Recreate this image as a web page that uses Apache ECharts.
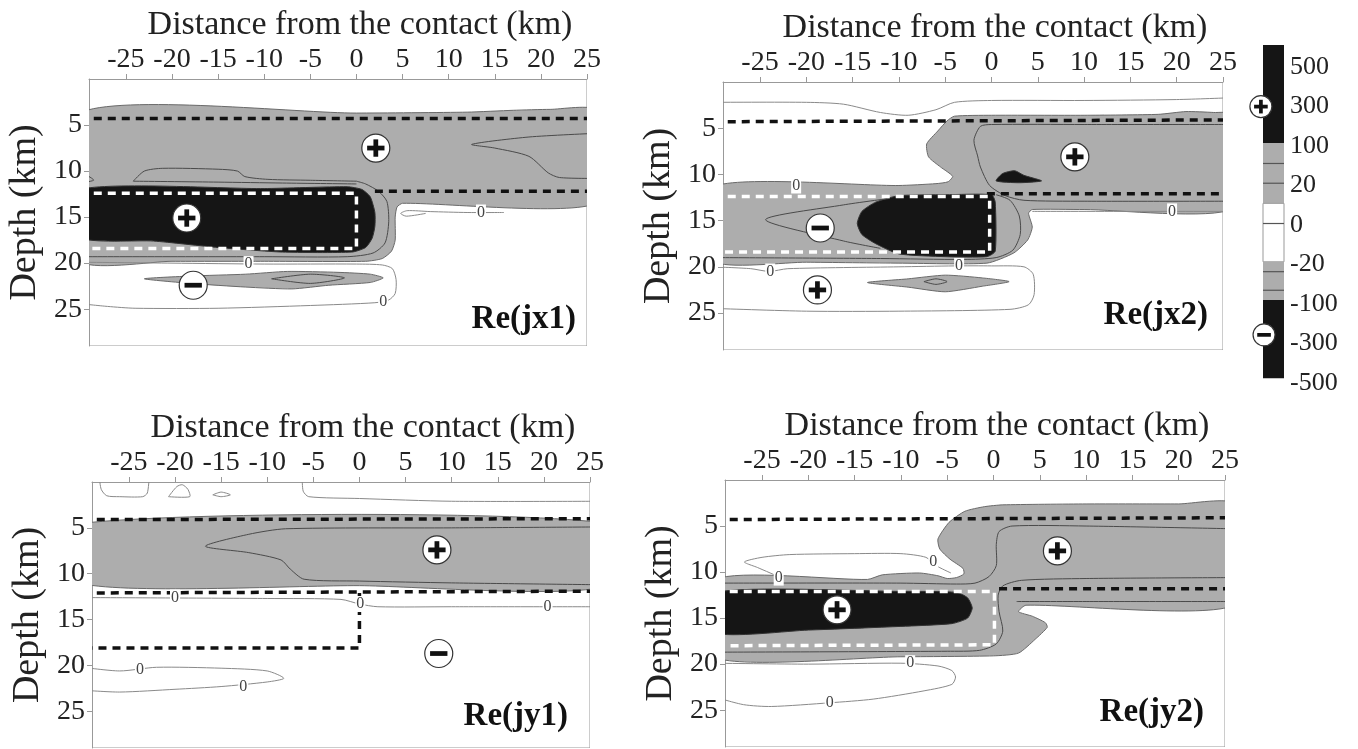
<!DOCTYPE html>
<html><head><meta charset="utf-8">
<script src="https://cdn.jsdelivr.net/npm/echarts@6/dist/echarts.min.js"></script>
<style>html,body{margin:0;padding:0;background:#fff}#c{width:1358px;height:749px}</style>
</head><body><div id="c"></div><script>
// ---------- axes ----------
const xTickValues = [-25,-20,-15,-10,-5,0,5,10,15,20,25];
const yTickValues = [5,10,15,20,25];
const xRange = [-29, 25];
const yRange = [0, 29];
const panelTitles = ['Re(jx1)','Re(jx2)','Re(jy1)','Re(jy2)'];

// ---------- colour bar ----------
const cbLabels = ['500','300','100','20','0','-20','-100','-300','-500'];
const cbAxisRange = [-0.56, 8.1];
const cbSegStart = [-0.56, 1.92, 3.45, 4.93, 5.9];
const cbSegEnd   = [1.92, 3.45, 4.93, 5.9, 7.88];
const cbSegKind  = ['black','grey','white','grey','black'];
const cbLines    = [2.44, 2.94, 3.96, 5.18, 5.65];
const cbPlus  = [[-0.1, 1.0]];
const cbMinus = [[0.05, 6.78]];

// ---------- panel 1 : Re(jx1) ----------
const p1Grey = [
 [[-30,3.7],[0,3.7],[12,3.6],[17,3.4],[21,3.3],[26,3.4],[26,13.5],[5,13.5],[4.4,13.9],[4.2,15],[4.2,17.5],[3.8,18.7],[2.8,19.5],[1,19.8],[-10,19.8],[-20,19.8],[-30,19.7]],
 [[-23,21.7],[-18,21.4],[-12,21.2],[-7.5,20.9],[-2,21.0],[1.5,21.2],[2.9,21.6],[1.5,22.1],[-3,22.4],[-7,22.8],[-12,22.6],[-18,22.2]]
];
const p1Black = [
 [[-30,12.0],[-10,11.9],[-1,11.7],[0.6,12.0],[1.5,12.8],[2.0,14.5],[2.0,16],[1.7,17.3],[1,18.3],[-0.5,18.8],[-8,18.8],[-15,18.3],[-22,17.6],[-30,17.2]]
];
const p1Contours = [
 [[-24.2,11.1],[-23,10.0],[-21,9.7],[-15,9.8],[-12.9,10.0],[-12.1,10.6],[-9.6,10.9],[-5,11.0],[0,11.1]],
 [[-24.2,11.1],[-15,11.2],[-8,11.3],[0,11.4]],
 [[0,11.1],[1,11.4],[2.4,12.2],[3.3,13.3],[3.5,15.5],[3.1,17.8],[1.8,18.9],[-1,19.3],[-10,19.3],[-30,19.3]],
 [[-30,10.3],[-29,10.6],[-28.5,11.0],[-30,11.3]],
 [[26,5.9],[18.7,6.3],[12.5,7.1],[15,7.5],[18.7,8.4],[20.8,10.2],[22,10.7],[26,10.8]],
 [[-9.2,21.7],[-5,21.2],[-1.3,21.6],[-5,22.2],[-9.2,21.7]]
];
const p1Zero = [
 [[-30,19.9],[-20,20.0],[-10,20.1],[0,20.1],[2.8,20.2],[3.9,20.6],[4.3,21.8],[4.2,23.3],[3.5,24.0],[2,24.3],[-5,24.6],[-15,24.9],[-24,24.9],[-27,24.7],[-30,24.4]],
 [[16,14.5],[12,14.5],[8,14.4],[5.5,14.3],[4.8,14.6],[5.4,14.9],[7.5,14.6]]
];
const p1ZeroLabels = [[-11.7,20.1],[2.9,24.2],[13.5,14.5]];
const p1DashBlack = [[[-30,4.3],[26,4.3]], [[2,12.2],[26,12.2]]];
const p1DashWhite = [[[-30,12.4],[0,12.4],[0,18.4],[-30,18.4]]];
const p1Plus = [[2.1,7.5],[-18.4,15.1]];
const p1Minus = [[-17.7,22.4]];

// ---------- panel 2 : Re(jx2) ----------
const p2Grey = [
 [[-30,11.3],[-10,11.2],[-6,11.0],[-4.7,10.8],[-4.2,10.2],[-5.5,9.2],[-6.8,8.1],[-7,6.7],[-5.8,5.3],[-4.8,4.2],[-4,3.7],[0,3.6],[10,3.6],[18,3.5],[21,3.2],[24,3.3],[26,3.5],[26,13.7],[10,13.8],[4.4,13.8],[4.0,14.2],[4.4,15.7],[3.9,17.1],[2.4,18.5],[-0.5,19.6],[-10,19.6],[-20,19.5],[-30,19.4]],
 [[-13.4,21.7],[-9,21.3],[-5,20.9],[-1,21.2],[1.9,21.6],[-1,22.1],[-5,22.7],[-9,22.2]]
];
const p2Black = [
 [[-14.5,15.3],[-14,14],[-12.5,13],[-10,12.3],[-5,12.2],[0,12.2],[0.4,13],[0.4,18.3],[-0.5,18.9],[-5,18.9],[-10,18.6],[-12.5,17.5],[-14,16.5]],
 [[0.5,10.7],[1.2,9.9],[2.5,9.6],[3.5,10.1],[5.4,10.7],[3,10.9]]
];
const p2Contours = [
 [[-11,12.6],[-16,13.3],[-24.4,14.9],[-16,17.2],[-12,18.0]],
 [[0.5,12.2],[2,12.8],[3,14.5],[3.1,16.5],[2.3,18.2],[0.5,19.0],[-3,19.2],[-12,19.1],[-30,19.0]],
 [[26,4.6],[10,4.6],[0,4.6],[-1.2,4.8],[-1.9,6.3],[-1.5,8],[-1.2,9.2],[-0.2,11.2],[1.5,12.3],[3.5,12.8],[10,12.9],[26,12.9]],
 [[-7.3,21.6],[-6,21.3],[-4.8,21.6],[-6,21.9],[-7.3,21.6]]
];
const p2Zero = [
 [[-30,2.2],[-20,2.2],[-16,2.4],[-12,3.3],[-9,3.6],[-6,3.0],[-4,2.2],[0,2.0],[10,2.0],[20,1.9],[26,1.7]],
 [[4.4,14.0],[26,14.0]],
 [[-30,20.0],[-26,20.2],[-24,20.5],[-22,20.2],[-10,20.0],[-4,19.9],[0,19.9],[3.5,20.0],[4.5,20.8],[4.6,23],[4,24.1],[2,24.6],[-10,24.8],[-20,24.8],[-30,24.5]]
];
const p2ZeroLabels = [[-21.1,11.2],[19.5,14.0],[-23.9,20.5],[-3.5,19.9]];
const p2DashBlack = [[[-30,4.3],[26,4.1]], [[-0.5,12.1],[26,12.1]]];
const p2DashWhite = [[[-30,12.4],[-0.2,12.4],[-0.2,18.4],[-30,18.4]]];
const p2Plus = [[9.0,8.1],[-18.8,22.5]];
const p2Minus = [[-18.5,15.8]];

// ---------- panel 3 : Re(jy1) ----------
const p3Grey = [
 [[-30,4.5],[26,4.4],[26,11.5],[0,11.3],[-30,11.1]]
];
const p3Black = [];
const p3Contours = [
 [[26,4.9],[10,5.0],[-8,5.1],[-12,5.7],[-16.7,7.0],[-12,7.7],[-8.5,8.5],[-7.5,9.5],[-6,10.6],[0,10.8],[10,11.0],[26,11.2]]
];
const p3Zero = [
 [[-28.2,-0.5],[-28,0.8],[-27.4,1.5],[-26,1.6],[-23.5,1.6],[-23,1.2],[-22.8,-0.5]],
 [[-20.7,1.6],[-19.8,0.5],[-19.2,0.3],[-18.6,0.8],[-18.4,1.6],[-20.7,1.6]],
 [[-15.9,1.4],[-15,1.1],[-14,1.4],[-15,1.6],[-15.9,1.4]],
 [[-6.2,-0.5],[-6.1,1.0],[-5.5,1.6],[0,1.8],[10,2.1],[26,2.1]],
 [[-30,12.6],[-10,12.7],[-2,12.8],[0,13.3],[2,13.6],[10,13.6],[26,13.6]],
 [[-30,20.2],[-26,20.6],[-22,20.2],[-15,20.3],[-10,20.6],[-8.2,21.4],[-10,21.8],[-15,22.3],[-20,22.6],[-26,22.9],[-30,22.7]]
];
const p3ZeroLabels = [[-20,12.6],[0.1,13.3],[20.4,13.6],[-23.8,20.5],[-12.6,22.3]];
const p3DashBlack = [[[-30,4.1],[26,4.0]], [[-30,12.1],[26,11.9]], [[0,12.1],[0,18.1],[-30,18.1]]];
const p3DashWhite = [];
const p3Plus = [[8.4,7.4]];
const p3Minus = [[8.6,18.7]];

// ---------- panel 4 : Re(jy2) ----------
const p4Grey = [
 [[-30,10.8],[-13.6,10.8],[-12,10.3],[-8,10.1],[-6,10.4],[-5,10.7],[-4,10.6],[-3.2,10.2],[-3.3,9.6],[-4.7,8.6],[-5.8,7.5],[-6,6.4],[-4.8,4.6],[-3.1,3.4],[-1,2.9],[1,2.7],[10,2.6],[20,2.6],[26,2.6],[26,13.6],[3.5,13.6],[2.7,14.3],[4.2,14.8],[5.6,15.5],[5.8,16],[4.5,17.3],[2.7,18.8],[0,19.1],[-10,19.2],[-30,19.3]]
];
const p4Black = [
 [[-30,12.2],[-10,12.1],[-4,12.2],[-2.8,12.8],[-2.3,13.9],[-2.8,15],[-4.5,15.6],[-10,15.9],[-20,16.3],[-30,16.6]]
];
const p4Contours = [
 [[26,5.3],[10,5.0],[2,5.0],[0.6,5.6],[0.3,7],[0.3,9.3],[-0.5,10.5],[-2,11.2],[-4,11.3],[-10,11.2],[-30,11.2]],
 [[26,10.6],[10,10.7],[3,10.9],[1,11.5],[0.5,12.5],[0.6,14.3],[1,16.4],[0.3,17.8],[-1.5,18.5],[-5,18.6],[-30,18.7]],
 [[2.5,13.2],[10,13.2],[26,13.2]]
];
const p4Zero = [
 [[-23.2,10.5],[-25.5,9.5],[-26.9,8.9],[-25,8.4],[-22,8.1],[-15,8.0],[-10,8.0],[-7.3,8.4],[-6.2,9.3],[-4.6,10.1]],
 [[-30,23.6],[-27,24.4],[-24,24.6],[-17.7,24.2],[-13,23.8],[-7.5,22.9],[-4.5,22.2],[-4.1,21.4],[-4.5,20.7],[-6,20.2],[-10,19.9],[-20,20.0],[-30,19.9]]
];
const p4ZeroLabels = [[-23.2,10.6],[-6.5,8.9],[-9,19.9],[-17.7,24.2]];
const p4DashBlack = [[[-30,4.3],[26,4.1]], [[0.6,11.8],[26,11.8]]];
const p4DashWhite = [[[-30,12.1],[0.1,12.1],[0.1,17.9],[-30,18.0]]];
const p4Plus = [[6.9,7.7],[-16.9,14.1]];
const p4Minus = [];

// ---------- build ----------
const SERIF = "'Liberation Serif','Times New Roman',serif";
const GREY = '#adadad', BLACK = '#151515', TXT = '#222';
const kindFill = {black: BLACK, grey: GREY, white: '#fff'};

const panels = [
 {grey:p1Grey, black:p1Black, cont:p1Contours, zero:p1Zero, zl:p1ZeroLabels, db:p1DashBlack, dw:p1DashWhite, plus:p1Plus, minus:p1Minus},
 {grey:p2Grey, black:p2Black, cont:p2Contours, zero:p2Zero, zl:p2ZeroLabels, db:p2DashBlack, dw:p2DashWhite, plus:p2Plus, minus:p2Minus},
 {grey:p3Grey, black:p3Black, cont:p3Contours, zero:p3Zero, zl:p3ZeroLabels, db:p3DashBlack, dw:p3DashWhite, plus:p3Plus, minus:p3Minus},
 {grey:p4Grey, black:p4Black, cont:p4Contours, zero:p4Zero, zl:p4ZeroLabels, db:p4DashBlack, dw:p4DashWhite, plus:p4Plus, minus:p4Minus}
];
const gridBoxes = [
 {left:89, top:79, width:498, height:267},
 {left:723, top:82, width:500, height:268},
 {left:92, top:482, width:498, height:266},
 {left:725, top:480, width:500, height:267},
 {left:1263, top:45, width:21, height:342}
];
const titlePos = [[576,319],[1208,315],[568,716],[1204,712]];

function polySeries(gi, list, fill, stroke, z){
  return {type:'custom', xAxisIndex:gi, yAxisIndex:gi, clip:true, silent:true, z:z,
    data:list.map((p,i)=>[p[0][0],p[0][1],i]),
    renderItem:(params,api)=>({type:'polygon',
      shape:{points:list[params.dataIndex].map(q=>api.coord(q)), smooth:0.2},
      style:{fill:fill, stroke:stroke, lineWidth:1}})};
}
function lineSeries(gi, list, color, width, dash, z, smooth){
  return {type:'custom', xAxisIndex:gi, yAxisIndex:gi, clip:true, silent:true, z:z,
    data:list.map((p,i)=>[p[0][0],p[0][1],i]),
    renderItem:(params,api)=>({type:'polyline',
      shape:{points:list[params.dataIndex].map(q=>api.coord(q)), smooth:smooth},
      style:{fill:null, stroke:color, lineWidth:width, lineDash:dash||null, lineCap:'butt'}})};
}
function zeroLabelSeries(gi, list, z){
  return {type:'custom', xAxisIndex:gi, yAxisIndex:gi, clip:true, silent:true, z:z,
    data:list.map(p=>[p[0],p[1]]),
    renderItem:(params,api)=>{const c=api.coord([api.value(0),api.value(1)]);
      return {type:'text', x:c[0], y:c[1], style:{text:'0', font:'16px '+SERIF, fill:'#444',
        align:'center', verticalAlign:'middle', backgroundColor:'#fff', padding:[0,1]}};}};
}
function signSeries(gi, list, plus, r, z){
  return {type:'custom', xAxisIndex:gi, yAxisIndex:gi, clip:false, silent:true, z:z,
    data:list.map(p=>[p[0],p[1]]),
    renderItem:(params,api)=>{const c=api.coord([api.value(0),api.value(1)]);
      const kids=[{type:'circle', shape:{cx:c[0],cy:c[1],r:r}, style:{fill:'#fff',stroke:'#333',lineWidth:1.2}},
        {type:'rect', shape:{x:c[0]-r*0.62,y:c[1]-r*0.17,width:r*1.24,height:r*0.34}, style:{fill:'#111'}}];
      if(plus) kids.push({type:'rect', shape:{x:c[0]-r*0.17,y:c[1]-r*0.62,width:r*0.34,height:r*1.24}, style:{fill:'#111'}});
      return {type:'group', children:kids};}};
}

const grid = gridBoxes.map(b=>Object.assign({show:false, containLabel:false}, b));
const xAxis = [], yAxis = [], series = [];
panels.forEach((p,gi)=>{
  xAxis.push({gridIndex:gi, type:'value', position:'top', min:xRange[0], max:xRange[1],
    name:'Distance from the contact (km)', nameLocation:'middle', nameGap:54,
    nameTextStyle:{fontFamily:SERIF, fontSize:34, color:TXT, verticalAlign:'middle', padding:[0,0,0,44]},
    axisLine:{show:true, onZero:false, lineStyle:{color:'#999', width:1}},
    axisTick:{show:true, inside:false, length:5, customValues:xTickValues, lineStyle:{color:'#999'}},
    axisLabel:{customValues:xTickValues, fontFamily:SERIF, fontSize:28, color:TXT, margin:5},
    splitLine:{show:false}});
  yAxis.push({gridIndex:gi, type:'value', inverse:true, min:yRange[0], max:yRange[1],
    name:'Depth (km)', nameLocation:'middle', nameGap:64,
    nameTextStyle:{fontFamily:SERIF, fontSize:38, color:TXT, verticalAlign:'middle'},
    axisLine:{show:true, onZero:false, lineStyle:{color:'#999', width:1}},
    axisTick:{show:true, inside:false, length:5, customValues:yTickValues, lineStyle:{color:'#999'}},
    axisLabel:{customValues:yTickValues, fontFamily:SERIF, fontSize:28, color:TXT, margin:7},
    splitLine:{show:false}});
  series.push(lineSeries(gi, [[[xRange[0],yRange[1]],[xRange[1],yRange[1]],[xRange[1],yRange[0]]]], '#999', 1, null, 1, 0));
  series.push(polySeries(gi, p.grey, GREY, '#6a6a6a', 2));
  series.push(polySeries(gi, p.black, BLACK, '#333', 3));
  series.push(lineSeries(gi, p.cont, '#4a4a4a', 1, null, 4, 0.25));
  series.push(lineSeries(gi, p.zero, '#8a8a8a', 1, null, 4, 0.25));
  series.push(lineSeries(gi, p.db, '#111', 3.5, [8,6], 5, 0));
  series.push(lineSeries(gi, p.dw, '#fff', 3.5, [8,6], 5, 0));
  series.push(zeroLabelSeries(gi, p.zl, 6));
  series.push(signSeries(gi, p.plus, true, 14, 7));
  series.push(signSeries(gi, p.minus, false, 14, 7));
});
// colour bar
xAxis.push({gridIndex:4, type:'value', min:0, max:1, show:false});
yAxis.push({gridIndex:4, type:'value', inverse:true, min:cbAxisRange[0], max:cbAxisRange[1], position:'right',
  axisLine:{show:false}, axisTick:{show:false}, splitLine:{show:false},
  axisLabel:{customValues:cbLabels.map((s,i)=>i), formatter:v=>cbLabels[Math.round(v)], fontFamily:SERIF, fontSize:26, color:TXT, margin:6}});
series.push({type:'custom', xAxisIndex:4, yAxisIndex:4, silent:true, z:2,
  data:cbSegStart.map((s,i)=>[0,s,cbSegEnd[i],i]),
  renderItem:(params,api)=>{const a=api.coord([0,api.value(1)]), b=api.coord([1,api.value(2)]);
    const k=cbSegKind[params.dataIndex];
    return {type:'rect', shape:{x:a[0],y:a[1],width:b[0]-a[0],height:b[1]-a[1]},
      style:{fill:kindFill[k], stroke:k==='white'?'#999':null, lineWidth:1}};}});
series.push({type:'custom', xAxisIndex:4, yAxisIndex:4, silent:true, z:3,
  data:cbLines.map(v=>[0,v]),
  renderItem:(params,api)=>{const a=api.coord([0,api.value(1)]), b=api.coord([1,api.value(1)]);
    return {type:'line', shape:{x1:a[0],y1:a[1],x2:b[0],y2:b[1]}, style:{stroke:'#555',lineWidth:1.2}};}});
series.push(signSeries(4, cbPlus, true, 11, 5));
series.push(signSeries(4, cbMinus, false, 11, 5));

const graphic = titlePos.map((t,i)=>({type:'text', x:t[0], y:t[1],
  style:{text:panelTitles[i], font:'bold 33px '+SERIF, fill:'#111', align:'right', verticalAlign:'middle'}}));

const chart = echarts.init(document.getElementById('c'), null, {renderer:'canvas'});
chart.setOption({animation:false, backgroundColor:'#fff', grid, xAxis, yAxis, series, graphic});
</script></body></html>
